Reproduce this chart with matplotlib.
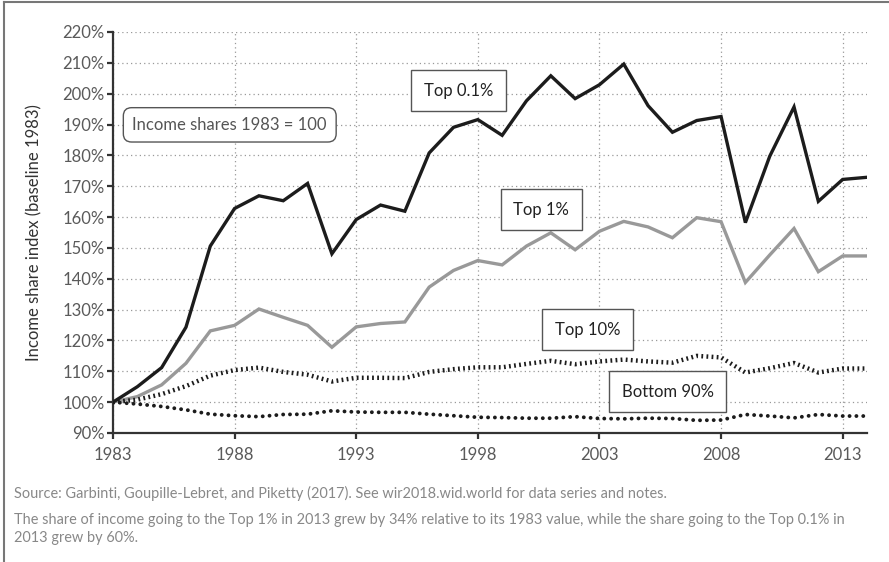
import matplotlib
matplotlib.use("Agg")
import matplotlib.pyplot as plt
from matplotlib.lines import Line2D

plt.rcParams['font.family'] = ['Lato', 'DejaVu Sans']

years = list(range(1983, 2015))
top01 = [100, 105.0, 111.2, 124.3, 150.6, 162.8, 166.9, 165.3, 170.9, 148.1,
         159.2, 163.9, 161.9, 180.8, 189.1, 191.6, 186.5, 197.7, 205.8, 198.4,
         202.9, 209.6, 196.1, 187.5, 191.3, 192.6, 158.2, 179.7, 195.7, 165.1,
         172.2, 172.9]
top1 = [100, 101.8, 105.6, 112.6, 123.1, 124.9, 130.2, 127.5, 124.9, 117.8,
        124.4, 125.5, 126.0, 137.3, 142.7, 145.9, 144.5, 150.6, 154.9, 149.4,
        155.4, 158.6, 156.8, 153.3, 159.8, 158.5, 138.8, 147.7, 156.3, 142.3,
        147.4, 147.4]
top10 = [100, 100.8, 102.6, 105.2, 108.6, 110.4, 111.2, 109.8, 108.9, 106.7,
         107.9, 107.9, 107.8, 109.8, 110.7, 111.3, 111.3, 112.4, 113.4, 112.3,
         113.2, 113.8, 113.2, 112.8, 115.0, 114.5, 109.6, 111.0, 112.7, 109.6,
         110.9, 110.9]
bottom90 = [100, 99.4, 98.6, 97.5, 96.1, 95.6, 95.3, 96.0, 96.1, 97.2,
            96.8, 96.7, 96.7, 96.1, 95.6, 95.1, 95.0, 94.8, 94.8, 95.3,
            94.7, 94.6, 94.8, 94.7, 94.1, 94.2, 96.0, 95.5, 94.9, 96.0,
            95.5, 95.5]

xticks = [1983, 1988, 1993, 1998, 2003, 2008, 2013]
yticks = list(range(90, 221, 10))
ytick_labels = [f"{v}%" for v in yticks]

W, H = 889, 562
fig = plt.figure(figsize=(W / 100, H / 100), dpi=100)
ax = fig.add_axes([113 / W, 1 - 433 / H, (867 - 113) / W, (433 - 32) / H])

ax.set_xlim(1983, 2014)
ax.set_ylim(90, 220)

ax.plot(years, top01, color='#1c1c1c', lw=2.4, solid_joinstyle='miter', zorder=5)
ax.plot(years, top1, color='#999999', lw=2.4, solid_joinstyle='miter', zorder=4)
ax.plot(years, top10, color='#1c1c1c', lw=3.2, linestyle=(0, (0.4, 0.75)),
        dash_capstyle='butt', zorder=4)
ax.plot(years, bottom90, color='#1c1c1c', lw=2.8, linestyle=(0, (0.01, 1.75)),
        dash_capstyle='round', zorder=4)

ax.set_xticks(xticks)
ax.set_yticks(yticks)
ax.set_yticklabels(ytick_labels)
ax.grid(True, color='#999999', linestyle=(0, (1, 2.5)), lw=0.9)
ax.set_axisbelow(True)
for s in ['top', 'right']:
    ax.spines[s].set_visible(False)
for s in ['left', 'bottom']:
    ax.spines[s].set_color('#333333')
    ax.spines[s].set_linewidth(1.6)
ax.tick_params(axis='both', colors='#333333', labelcolor='#5a5a5a',
               labelsize=12, length=4, width=1.6, direction='out')
ax.tick_params(axis='x', pad=6)
ax.tick_params(axis='y', pad=2)
ax.set_ylabel("Income share index (baseline 1983)", fontsize=12,
              color='#333333')
ax.yaxis.set_label_coords(-0.094, 0.5)

box = dict(boxstyle='square,pad=0.75', fc='white', ec='#555555', lw=1.0)
lab_kw = dict(ha='center', va='center', fontsize=12, color='#222222',
              bbox=box, zorder=6)
ax.text(1997.2, 200.9, "Top 0.1%", **lab_kw)
ax.text(2000.6, 162.3, "Top 1%", **lab_kw)
ax.text(2002.5, 123.4, "Top 10%", **lab_kw)
ax.text(2005.8, 103.3, "Bottom 90%", **lab_kw)
ax.text(1987.8, 189.9, "Income shares 1983 = 100", ha='center', va='center',
        fontsize=12, color='#555555', zorder=6,
        bbox=dict(boxstyle='round,pad=0.55,rounding_size=0.5', fc='white',
                  ec='#555555', lw=1.0))

# frame lines (top and left)
fig.add_artist(Line2D([4 / W, 4 / W], [0, 1 - 2 / H], color='#777777', lw=1.5,
                      transform=fig.transFigure))
fig.add_artist(Line2D([4 / W, 1], [1 - 2 / H, 1 - 2 / H], color='#777777', lw=1.5,
                      transform=fig.transFigure))

fc = '#888888'
foot_kw = dict(fontsize=10.45, color=fc, va='center', ha='left')
fig.text(14 / W, 1 - 493 / H,
         "Source: Garbinti, Goupille-Lebret, and Piketty (2017). See wir2018.wid.world for data series and notes.",
         **foot_kw)
fig.text(14 / W, 1 - 520 / H,
         "The share of income going to the Top 1% in 2013 grew by 34% relative to its 1983 value, while the share going to the Top 0.1% in",
         **foot_kw)
fig.text(14 / W, 1 - 538 / H, "2013 grew by 60%.", **foot_kw)

fig.savefig("out.png", dpi=100)
